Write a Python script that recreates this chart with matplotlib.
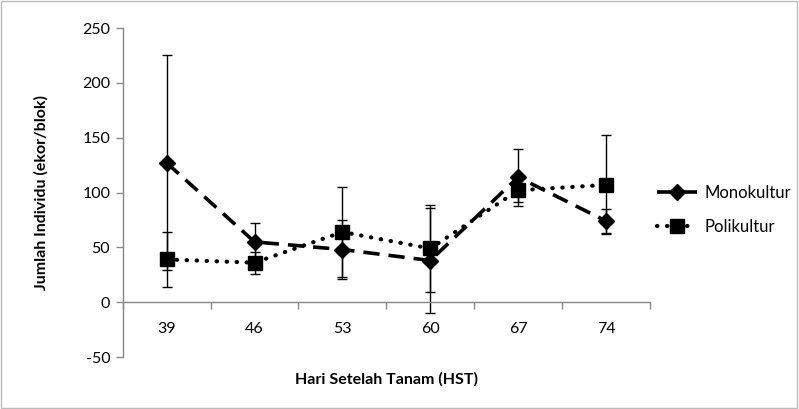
import matplotlib
matplotlib.use("Agg")
import matplotlib.pyplot as plt
from matplotlib.patches import Rectangle
import numpy as np

plt.rcParams['font.family'] = ['Lato', 'DejaVu Sans']
plt.rcParams['axes.unicode_minus'] = False

categories = ["39", "46", "53", "60", "67", "74"]
mono = [127, 55, 48, 38, 114, 74]
mono_err = [98, 17, 27, 48, 26, 11]
poli = [39, 36, 64, 49, 102, 107]
poli_err = [25, 10, 41, 40, 11, 45]
yticks = [-50, 0, 50, 100, 150, 200, 250]

fig = plt.figure(figsize=(7.99, 4.09), dpi=100)
ax = fig.add_axes([0.1536, 0.1271, 0.8135 - 0.1536, 0.9315 - 0.1271])
x = np.arange(len(categories))

ax.errorbar(x, mono, yerr=mono_err, fmt='none', ecolor='black', elinewidth=1, capsize=3.5, capthick=1, zorder=2)
ax.errorbar(x, poli, yerr=poli_err, fmt='none', ecolor='black', elinewidth=1, capsize=3.5, capthick=1, zorder=2)

l1, = ax.plot(x, mono, color='black', lw=2.6, linestyle=(0, (4.5, 2.5)), marker='D', markersize=8.5, label='Monokultur', zorder=3)
l2, = ax.plot(x, poli, color='black', lw=3.0, linestyle=(0, (0.1, 2.3)), dash_capstyle='round', marker='s', markersize=10, label='Polikultur', zorder=3)

ax.set_xlim(-0.5, len(categories) - 0.5)
ax.set_ylim(-50, 250)
ax.set_yticks(yticks)
ax.set_xticks(x)
ax.set_xticklabels(categories)
ax.set_xticks(np.arange(-0.5, len(categories), 1.0), minor=True)
ax.tick_params(axis='x', which='major', length=0, pad=14, labelsize=11.5)
ax.tick_params(axis='x', which='minor', length=5, width=1, color='#888888', direction='out')
ax.tick_params(axis='y', length=5, width=1, color='#888888', labelsize=11.5, pad=4)

ax.spines['top'].set_visible(False)
ax.spines['right'].set_visible(False)
ax.spines['bottom'].set_position(('data', 0))
ax.spines['bottom'].set_color('#888888')
ax.spines['left'].set_color('#888888')
ax.spines['bottom'].set_linewidth(1)
ax.spines['left'].set_linewidth(1)

ax.set_ylabel('Jumlah Individu (ekor/blok)', fontsize=11.5, fontweight='bold', labelpad=24)
ax.set_xlabel('Hari Setelah Tanam (HST)', fontsize=11.5, fontweight='bold')
ax.xaxis.set_label_coords(0.5, -0.045)

fig.legend(handles=[l1, l2], loc='center left', bbox_to_anchor=(0.803, 0.487), frameon=False,
           fontsize=12, handlelength=2.4, labelspacing=1.05, handletextpad=0.5)

fig.patches.append(Rectangle((0.001, 0.002), 0.997, 0.996, transform=fig.transFigure,
                             fill=False, edgecolor='#bbbbbb', lw=1))

fig.savefig('out.png', dpi=100)
